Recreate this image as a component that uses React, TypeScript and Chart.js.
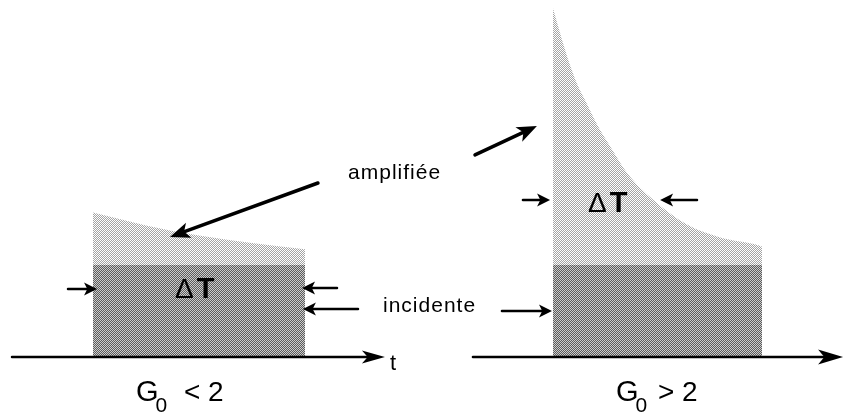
import React, { useEffect, useRef } from "react";
import { Chart, registerables } from "chart.js";

Chart.register(...registerables);

// ---- data (time in pulse-width units, intensity relative to incident pulse) ----
const leftTimes = [0, 0.25, 0.5, 0.75, 1];
const leftAmplified = [1.57, 1.43, 1.32, 1.24, 1.17];
const rightTimes = [2.17, 2.203, 2.236, 2.283, 2.33, 2.377, 2.439, 2.519, 2.642, 2.802, 2.958, 3.146, 3.156];
const rightAmplified = [3.79, 3.52, 3.27, 2.97, 2.75, 2.53, 2.29, 2.0, 1.71, 1.44, 1.3, 1.21, 1.2];
const leftPulseTimes = [0, 1];
const rightPulseTimes = [2.17, 3.156];
const incidentLevel = 1;
const panelConditions = ["< 2", "> 2"];
const labelAmplified = "amplifiée";
const labelIncident = "incidente";
const labelDeltaSymbol = "Δ";
const labelDeltaVar = "T";
const labelTime = "t";

const FONT = "'Liberation Sans', Arial, Helvetica, sans-serif";

function makePattern(a: string, b: string): CanvasPattern | string {
  const c = document.createElement("canvas");
  c.width = 2;
  c.height = 2;
  const g = c.getContext("2d");
  if (!g) return a;
  g.fillStyle = a;
  g.fillRect(0, 0, 2, 2);
  g.fillStyle = b;
  g.fillRect(1, 0, 1, 1);
  g.fillRect(0, 1, 1, 1);
  const ctx = document.createElement("canvas").getContext("2d");
  return (ctx && ctx.createPattern(c, "repeat")) || a;
}

function arrow(
  ctx: CanvasRenderingContext2D,
  x1: number, y1: number, x2: number, y2: number,
  lw: number, hl: number, hw: number
) {
  const dx = x2 - x1, dy = y2 - y1;
  const L = Math.hypot(dx, dy);
  const ux = dx / L, uy = dy / L;
  const px = -uy, py = ux;
  const nx = x2 - ux * hl * 0.75, ny = y2 - uy * hl * 0.75;
  ctx.save();
  ctx.strokeStyle = "#000";
  ctx.fillStyle = "#000";
  ctx.lineWidth = lw;
  ctx.lineCap = "round";
  ctx.beginPath();
  ctx.moveTo(x1, y1);
  ctx.lineTo(nx + ux, ny + uy);
  ctx.stroke();
  const cx = x2 - ux * hl, cy = y2 - uy * hl;
  ctx.beginPath();
  ctx.moveTo(x2, y2);
  ctx.lineTo(cx + px * hw / 2, cy + py * hw / 2);
  ctx.lineTo(nx, ny);
  ctx.lineTo(cx - px * hw / 2, cy - py * hw / 2);
  ctx.closePath();
  ctx.fill();
  ctx.restore();
}

const annotationPlugin = {
  id: "diagramAnnotations",
  afterDatasetsDraw(chart: any) {
    const ctx: CanvasRenderingContext2D = chart.ctx;
    const xs = chart.scales.x, ys = chart.scales.y;
    const X = (t: number) => xs.getPixelForValue(t);
    const Y = (v: number) => ys.getPixelForValue(v);
    const A = (t1: number, v1: number, t2: number, v2: number, lw: number, hl: number, hw: number) =>
      arrow(ctx, X(t1), Y(v1), X(t2), Y(v2), lw, hl, hw);

    // time axes
    A(-0.382, 0, 1.377, 0, 2.5, 23, 13);
    A(1.792, 0, 3.538, 0, 2.5, 25, 15);

    // amplifiée pointers
    A(1.061, 1.891, 0.363, 1.304, 3.5, 20, 16);
    A(1.802, 2.196, 2.094, 2.511, 3.5, 20, 16);

    // ΔT width markers
    A(-0.118, 0.739, 0.019, 0.739, 2.5, 13, 13);
    A(1.151, 0.75, 0.986, 0.75, 2.5, 13, 13);
    A(2.028, 1.707, 2.156, 1.707, 2.5, 13, 13);
    A(2.849, 1.707, 2.675, 1.707, 2.5, 13, 13);

    // incidente pointers
    A(1.25, 0.522, 0.99, 0.522, 2.5, 13, 13);
    A(1.929, 0.5, 2.165, 0.5, 2.5, 13, 13);

    ctx.save();
    ctx.fillStyle = "#000";
    ctx.textBaseline = "alphabetic";
    ctx.textAlign = "left";
    (ctx as any).letterSpacing = "1px";

    ctx.font = `21px ${FONT}`;
    ctx.fillText(labelAmplified, X(1.203), Y(1.935));
    ctx.fillText(labelIncident, X(1.368), Y(0.489));
    (ctx as any).letterSpacing = "0px";
    ctx.font = `22px ${FONT}`;
    ctx.fillText(labelTime, X(1.401), Y(-0.141));

    const delta = (t: number, v: number) => {
      ctx.font = `28px ${FONT}`;
      ctx.fillText(labelDeltaSymbol, X(t), Y(v));
      const w = ctx.measureText(labelDeltaSymbol).width;
      ctx.font = `bold 29px ${FONT}`;
      ctx.fillText(labelDeltaVar, X(t) + w + 3, Y(v));
    };
    delta(0.387, 0.641);
    delta(2.335, 1.576);

    const gLabel = (tG: number, tRest: number, text: string) => {
      ctx.font = `29px ${FONT}`;
      ctx.fillText("G", X(tG), Y(-0.478));
      const gw = ctx.measureText("G").width;
      ctx.font = `21px ${FONT}`;
      ctx.fillText("0", X(tG) + gw - 3, Y(-0.598));
      ctx.font = `28px ${FONT}`;
      ctx.fillText(text, X(tRest), Y(-0.478));
    };
    gLabel(0.203, 0.429, panelConditions[0]);
    gLabel(2.467, 2.665, panelConditions[1]);
    ctx.restore();
  },
};

export default function App() {
  const ref = useRef<HTMLCanvasElement | null>(null);

  useEffect(() => {
    const canvas = ref.current;
    if (!canvas) return;
    const light = makePattern("#ffffff", "#a4a4a4");
    const dark = makePattern("#cccccc", "#5c5c5c");
    const pts = (ts: number[], vs: number[]) => ts.map((t, i) => ({ x: t, y: vs[i] }));
    const flat = (ts: number[]) => ts.map((t) => ({ x: t, y: incidentLevel }));

    const common = {
      fill: "origin",
      borderWidth: 0,
      borderColor: "rgba(0,0,0,0)",
      pointRadius: 0,
      cubicInterpolationMode: "monotone",
    };

    const chart = new Chart(canvas, {
      type: "line",
      data: {
        datasets: [
          { ...common, label: "incidente (G0<2)", data: flat(leftPulseTimes), backgroundColor: dark },
          { ...common, label: "incidente (G0>2)", data: flat(rightPulseTimes), backgroundColor: dark },
          { ...common, label: "amplifiée (G0<2)", data: pts(leftTimes, leftAmplified), backgroundColor: light },
          { ...common, label: "amplifiée (G0>2)", data: pts(rightTimes, rightAmplified), backgroundColor: light },
        ] as any,
      },
      options: {
        responsive: false,
        maintainAspectRatio: false,
        animation: false,
        layout: { padding: 0 },
        plugins: { legend: { display: false }, tooltip: { enabled: false } },
        scales: {
          x: { type: "linear", display: false, min: -0.4387, max: 3.566 },
          y: { type: "linear", display: false, min: -0.663, max: 3.88 },
        },
      },
      plugins: [annotationPlugin],
    });
    return () => chart.destroy();
  }, []);

  return (
    <div style={{ position: "absolute", left: 0, top: 0, width: 849, height: 418, background: "#fff" }}>
      <canvas ref={ref} width={849} height={418} style={{ display: "block" }} />
    </div>
  );
}
